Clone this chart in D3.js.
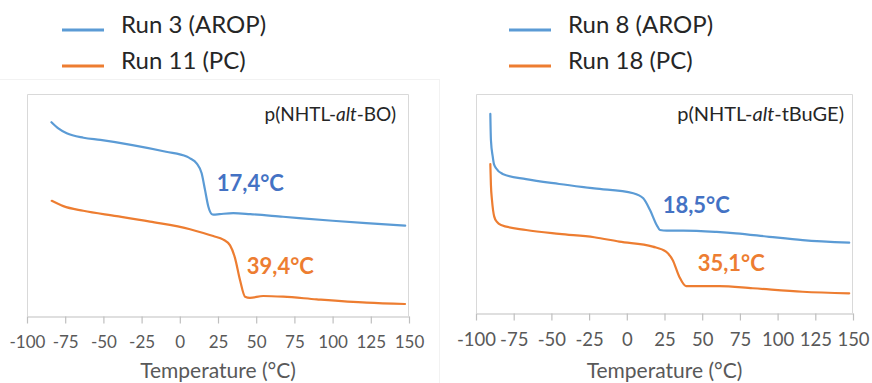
<!DOCTYPE html>
<html>
<head>
<meta charset="utf-8">
<script src="https://cdn.jsdelivr.net/npm/d3@7"></script>
<style>
  html, body { margin: 0; padding: 0; background: #fff; }
  svg { display: block; font-family: Lato, "Open Sans", sans-serif; }
</style>
</head>
<body>
<svg id="chart" width="872" height="383"></svg>
<script>
// ---------- DATA (temperature °C, heat flow in arbitrary units) ----------
const xTicks = [-100, -75, -50, -25, 0, 25, 50, 75, 100, 125, 150];

const run3AROP = [
  [-84, 87.3], [-79.5, 84.5], [-74, 82.3], [-63, 80.3], [-52, 79.3], [-31, 77.0],
  [-9, 74.0], [4.5, 71.8], [6.7, 71.0], [11, 68.8], [14.3, 64.3], [16.5, 56.8],
  [18.7, 49.2], [20.9, 45.9], [22, 45.7], [26, 45.9], [35, 46.3], [46, 45.9],
  [67.5, 44.7], [100, 42.9], [122, 41.8], [147.5, 40.7]
];
const run11PC = [
  [-83.8, 51.9], [-76.2, 49.5], [-63.2, 47.4], [-41.3, 45.0], [-19.5, 42.5],
  [6.7, 39.1], [15.4, 37.4], [21.9, 36.0], [28.5, 34.4], [32.9, 31.8], [36.1, 26.2],
  [39.4, 16.2], [42.7, 8.7], [45.9, 8.2], [54.6, 9.0], [67.7, 8.7], [89.6, 7.5],
  [122.3, 6.0], [147.4, 5.4]
];
const run8AROP = [
  [-90.5, 90.9], [-90.1, 79.0], [-88.9, 71.4], [-88.1, 68.0], [-86.7, 66.1],
  [-82.3, 63.5], [-66.8, 61.1], [-44.8, 58.9], [-21.6, 56.9], [4.3, 54.7],
  [10.9, 52.4], [15.4, 47.0], [19.8, 40.2], [22.0, 37.9], [26.5, 37.6], [37.5, 37.6],
  [59.6, 37.0], [72.4, 36.4], [94.5, 34.8], [116.6, 33.3], [147.5, 32.1]
];
const run18PC = [
  [-90.5, 68.0], [-90.1, 58.4], [-89.4, 51.6], [-87.9, 44.0], [-86.1, 41.6],
  [-83.4, 40.2], [-66.8, 37.9], [-44.8, 36.1], [-21.6, 34.6], [-5.0, 32.6],
  [17.2, 30.3], [26.0, 28.0], [30.4, 24.2], [34.8, 16.6], [39.3, 12.3], [50.3, 12.3],
  [61.3, 12.3], [83.5, 11.3], [116.6, 9.7], [147.5, 9.0]
];

const leftLegend = ["Run 3 (AROP)", "Run 11 (PC)"];
const rightLegend = ["Run 8 (AROP)", "Run 18 (PC)"];
const panelTitles = ["p(NHTL-", "alt", "-BO)"];
const panelTitles2 = ["p(NHTL-", "alt", "-tBuGE)"];
const leftTg = [{ text: "17,4°C", t: 24.2, v: 59.9 }, { text: "39,4°C", t: 43.8, v: 22.5 }];
const rightTg = [{ text: "18,5°C", t: 23.8, v: 49.3 }, { text: "35,1°C", t: 47.0, v: 22.8 }];
const axisTitle = "Temperature (°C)";

// ---------- STYLE ----------
const BLUE = "#5B9BD5", ORANGE = "#ED7D31";
const BLUE_TXT = "#4472C4", ORANGE_TXT = "#ED7D31";
const GRID = "#D9D9D9", AXIS = "#BFBFBF", TICKTXT = "#595959";

const svg = d3.select("#chart");

// faint outer chart-area frame of the left chart
svg.append("line").attr("x1", 0).attr("x2", 439).attr("y1", 79.5).attr("y2", 79.5)
  .attr("stroke", "#F2F2F2").attr("stroke-width", 1);
svg.append("line").attr("x1", 439.5).attr("x2", 439.5).attr("y1", 79).attr("y2", 383)
  .attr("stroke", "#F2F2F2").attr("stroke-width", 1);

function panel(cfg) {
  const x = d3.scaleLinear().domain([-100, 150]).range([cfg.left, cfg.right]);
  const y = d3.scaleLinear().domain([0, 100]).range([cfg.bottom, cfg.top]);
  const g = svg.append("g");

  // plot box (left, top, right)
  g.append("path")
    .attr("d", `M${cfg.left + 0.5},${cfg.bottom}V${cfg.top + 0.5}H${cfg.right - 0.5}V${cfg.bottom}`)
    .attr("fill", "none").attr("stroke", GRID).attr("stroke-width", 1);

  // x axis
  const ax = g.append("g").attr("transform", `translate(0,${cfg.bottom + 0.5})`)
    .call(d3.axisBottom(x).tickValues(xTicks).tickFormat(d => String(d))
      .tickSize(7).tickPadding(cfg.tickPad).tickSizeOuter(0));
  ax.select(".domain").attr("stroke", AXIS).attr("stroke-width", 1.2);
  ax.selectAll(".tick line").attr("stroke", AXIS).attr("stroke-width", 1.2);
  ax.selectAll(".tick text").attr("fill", TICKTXT)
    .style("font-family", "Lato, sans-serif").style("font-size", cfg.tickSize + "px");

  // axis title
  g.append("text").attr("x", (cfg.left + cfg.right) / 2).attr("y", 378)
    .attr("text-anchor", "middle").attr("fill", TICKTXT)
    .style("font-size", "21px").text(axisTitle);

  // curves
  const line = d3.line().x(d => x(d[0])).y(d => y(d[1])).curve(d3.curveMonotoneX);
  cfg.series.forEach((s, i) => {
    g.append("path").datum(s).attr("d", line).attr("fill", "none")
      .attr("stroke", i === 0 ? BLUE : ORANGE).attr("stroke-width", 2.2)
      .attr("stroke-linejoin", "round").attr("stroke-linecap", "round");
  });

  // Tg labels
  cfg.tg.forEach((d, i) => {
    g.append("text").attr("x", x(d.t)).attr("y", y(d.v)).attr("dy", "0.35em")
      .attr("fill", i === 0 ? BLUE_TXT : ORANGE_TXT)
      .style("font-size", "22px").style("font-weight", "bold").text(d.text);
  });

  // panel title
  const t = g.append("text").attr("x", cfg.right - cfg.titleInset).attr("y", cfg.top + 27)
    .attr("text-anchor", "end").attr("fill", "#262626").style("font-size", cfg.titleSize + "px");
  cfg.title.forEach((s, i) => t.append("tspan").style("font-style", i === 1 ? "italic" : "normal").text(s));

  // legend
  cfg.legend.forEach((s, i) => {
    const yy = 30 + i * 36;
    g.append("line").attr("x1", cfg.legX).attr("x2", cfg.legX + 42).attr("y1", yy).attr("y2", yy)
      .attr("stroke", i === 0 ? BLUE : ORANGE).attr("stroke-width", 3);
    g.append("text").attr("x", cfg.legX + 59).attr("y", yy + 3).attr("fill", "#262626")
      .style("font-size", "24px").text(s);
  });
}

panel({
  left: 27, right: 409, top: 94, bottom: 316, tickPad: 12, tickSize: 17,
  series: [run3AROP, run11PC], tg: leftTg, title: panelTitles, titleInset: 13, titleSize: 19,
  legend: leftLegend, legX: 62
});
panel({
  left: 476, right: 853, top: 94, bottom: 313, tickPad: 12, tickSize: 18.5,
  series: [run8AROP, run18PC], tg: rightTg, title: panelTitles2, titleInset: 9, titleSize: 20,
  legend: rightLegend, legX: 509
});
</script>
</body>
</html>
